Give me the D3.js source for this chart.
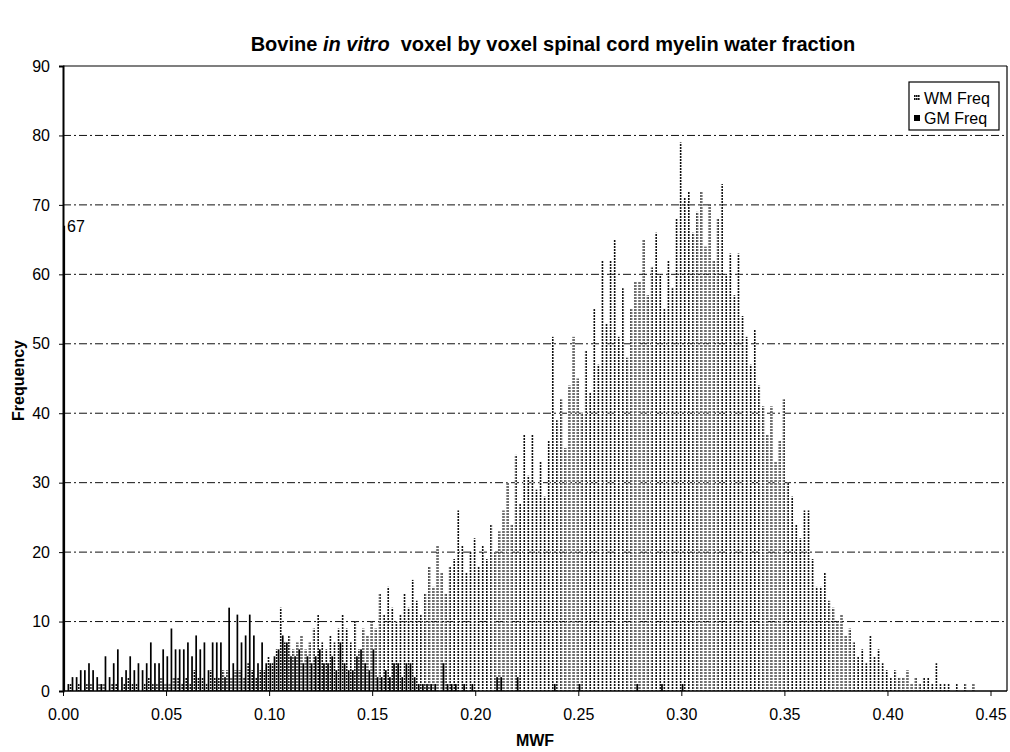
<!DOCTYPE html>
<html>
<head>
<meta charset="utf-8">
<script src="https://cdn.jsdelivr.net/npm/d3@7/dist/d3.min.js"></script>
<style>
  body { margin: 0; background: #fff; }
  svg { display: block; font-family: Arial, "Liberation Sans", sans-serif; }
</style>
</head>
<body>
<svg id="chart" width="1010" height="752"></svg>
<script>
// histogram bins, 0.002 MWF wide, starting at 0.000
const binWidth = 0.002

const gmFreq = [
  67, 1, 2, 2, 3, 3, 4, 3, 2, 1,
  5, 2, 4, 6, 2, 3, 5, 3, 4, 3,
  4, 7, 4, 4, 6, 5, 9, 6, 6, 6,
  7, 5, 8, 6, 7, 3, 7, 7, 7, 2,
  12, 4, 11, 7, 8, 11, 8, 4, 7, 4,
  4, 5, 6, 8, 7, 5, 5, 6, 4, 5,
  4, 5, 6, 4, 4, 5, 3, 7, 4, 3,
  3, 5, 6, 4, 3, 6, 2, 2, 3, 2,
  4, 4, 2, 4, 4, 2, 1, 1, 1, 1,
  1, 0, 4, 1, 1, 1, 0, 1, 0, 1,
  0, 0, 0, 0, 0, 2, 2, 0, 0, 0,
  2, 0, 0, 0, 0, 0, 0, 0, 0, 1,
  0, 0, 0, 0, 0, 1, 0, 0, 0, 0,
  0, 0, 0, 0, 0, 0, 0, 0, 0, 1,
  0, 0, 0, 0, 0, 1, 0, 0, 0, 0,
  1, 0, 0, 0, 0, 0, 0, 0, 0, 0,
  0, 0, 0, 0, 0, 0, 0, 0, 0, 0,
  0, 0, 0, 0, 0, 0, 0, 0, 0, 0,
  0, 0, 0, 0, 0, 0, 0, 0, 0, 0,
  0, 0, 0, 0, 0, 0, 0, 0, 0, 0,
  0, 0, 0, 0, 0, 0, 0, 0, 0, 0,
  0, 0, 0, 0, 0, 0, 0, 0, 0, 0,
  0, 0, 0, 0, 0, 0, 0, 0, 0
]

const wmFreq = [
  0, 0, 1, 0, 1, 0, 1, 1, 0, 1,
  1, 0, 1, 1, 0, 1, 2, 1, 1, 0,
  1, 2, 1, 1, 2, 1, 1, 2, 2, 1,
  2, 1, 3, 2, 2, 1, 3, 2, 2, 3,
  3, 2, 3, 3, 2, 4, 3, 2, 3, 3,
  5, 4, 6, 12, 7, 8, 6, 7, 8, 6,
  7, 9, 11, 7, 6, 8, 7, 9, 11, 9,
  7, 10, 6, 9, 8, 10, 9, 14, 11, 15,
  12, 10, 11, 14, 12, 16, 13, 11, 14, 18,
  15, 21, 17, 14, 18, 19, 26, 21, 17, 20,
  22, 18, 21, 19, 24, 20, 23, 26, 30, 24,
  34, 27, 37, 31, 37, 29, 33, 28, 36, 51,
  39, 42, 35, 44, 51, 45, 40, 49, 43, 55,
  47, 62, 53, 62, 65, 51, 58, 48, 55, 59,
  59, 65, 57, 61, 66, 60, 55, 62, 58, 68,
  79, 71, 72, 66, 69, 72, 64, 70, 62, 68,
  73, 60, 63, 57, 63, 54, 51, 47, 52, 44,
  41, 37, 41, 33, 36, 42, 30, 28, 24, 22,
  26, 26, 19, 15, 15, 17, 13, 12, 10, 11,
  8, 9, 7, 5, 6, 4, 8, 5, 6, 4,
  3, 2, 3, 2, 2, 3, 1, 2, 1, 2,
  2, 1, 4, 1, 1, 1, 0, 1, 0, 1,
  0, 1, 0, 0, 0, 0, 0, 0, 0
]

const xTicks = [0, 0.05, 0.10, 0.15, 0.20, 0.25, 0.30, 0.35, 0.40, 0.45]
const yTicks = [0, 10, 20, 30, 40, 50, 60, 70, 80, 90]
const seriesNames = ['WM Freq', 'GM Freq']

const svg = d3.select('#chart')
const plotLeft = 63, plotRight = 1007, plotTop = 66, plotBottom = 691
const fontFam = 'Arial, "Liberation Sans", sans-serif'

const x = d3.scaleLinear().domain([0, 0.458]).range([plotLeft, plotRight])
const y = d3.scaleLinear().domain([0, 90]).range([plotBottom, plotTop])

// dotted fill used for the WM bars
const defs = svg.append('defs')
const pat = defs.append('pattern')
    .attr('id', 'dots')
    .attr('patternUnits', 'userSpaceOnUse')
    .attr('width', 2)
    .attr('height', 3)
pat.append('rect').attr('width', 2).attr('height', 3).attr('fill', '#fff')
pat.append('rect').attr('width', 1.6).attr('height', 2).attr('fill', '#111')

// title
const title = svg.append('text')
    .attr('x', 553)
    .attr('y', 51)
    .attr('text-anchor', 'middle')
    .attr('font-size', 20)
    .attr('font-weight', 'bold')
title.append('tspan').text('Bovine ')
title.append('tspan').attr('font-style', 'italic').text('in vitro')
title.append('tspan').text('\u00a0\u00a0voxel by voxel spinal cord myelin water fraction')

// gridlines
svg.append('g')
    .selectAll('line')
    .data(yTicks.filter(d => d > 0 && d < 90))
    .enter()
    .append('line')
    .attr('x1', plotLeft)
    .attr('x2', plotRight)
    .attr('y1', d => y(d))
    .attr('y2', d => y(d))
    .attr('stroke', '#111')
    .attr('stroke-width', 1)
    .attr('stroke-dasharray', '8,3,2,3')

const bins = wmFreq.map((w, i) => ({ v: i * binWidth, wm: w, gm: gmFreq[i] }))

// WM bars (left of bin), GM bars (right of bin)
svg.append('g')
    .selectAll('rect')
    .data(bins.filter(d => d.wm > 0))
    .enter()
    .append('rect')
    .attr('x', d => x(d.v) - 1.6)
    .attr('y', d => y(d.wm))
    .attr('width', 2)
    .attr('height', d => y(0) - y(d.wm))
    .attr('fill', 'url(#dots)')

svg.append('g')
    .selectAll('rect')
    .data(bins.filter(d => d.gm > 0))
    .enter()
    .append('rect')
    .attr('x', d => x(d.v) + 0.4)
    .attr('y', d => y(d.gm))
    .attr('width', 1.7)
    .attr('height', d => y(0) - y(d.gm))
    .attr('fill', '#000')

// data label on the first bin
svg.append('text')
    .attr('x', x(0) + 4)
    .attr('y', y(gmFreq[0]) + 6)
    .attr('font-size', 16)
    .text(gmFreq[0])

// plot frame top/right
svg.append('line')
    .attr('x1', plotLeft).attr('x2', plotRight)
    .attr('y1', plotTop).attr('y2', plotTop)
    .attr('stroke', '#000').attr('stroke-width', 1.2)
svg.append('line')
    .attr('x1', plotRight).attr('x2', plotRight)
    .attr('y1', plotTop).attr('y2', plotBottom)
    .attr('stroke', '#000').attr('stroke-width', 1.2)

// axes
const xAxis = svg.append('g')
    .attr('transform', `translate(0,${plotBottom})`)
    .call(d3.axisBottom(x).tickValues(xTicks).tickFormat(d3.format('.2f')).tickSize(5).tickPadding(13))
xAxis.select('.domain').attr('stroke-width', 1.5).attr('d', `M${plotLeft},0H${plotRight}`)
xAxis.selectAll('text').attr('font-size', 16).attr('fill', '#000').attr('font-family', fontFam)

const yAxis = svg.append('g')
    .attr('transform', `translate(${plotLeft},0)`)
    .call(d3.axisLeft(y).tickValues(yTicks).tickSize(4).tickPadding(9))
yAxis.select('.domain').attr('stroke-width', 2)
yAxis.selectAll('text').attr('font-size', 16).attr('fill', '#000').attr('font-family', fontFam)

// axis titles
svg.append('text')
    .attr('x', (plotLeft + plotRight) / 2)
    .attr('y', 746)
    .attr('text-anchor', 'middle')
    .attr('font-size', 16)
    .attr('font-weight', 'bold')
    .text('MWF')

svg.append('text')
    .attr('transform', `translate(24,${(plotTop + plotBottom) / 2 + 2}) rotate(-90)`)
    .attr('text-anchor', 'middle')
    .attr('font-size', 16)
    .attr('font-weight', 'bold')
    .text('Frequency')

// legend
const legend = svg.append('g').attr('transform', 'translate(909,82)')
legend.append('rect')
    .attr('width', 90)
    .attr('height', 48)
    .attr('fill', '#fff')
    .attr('stroke', '#000')
    .attr('stroke-width', 1.2)

const items = legend.selectAll('g.item')
    .data(seriesNames)
    .enter()
    .append('g')
    .attr('transform', (d, i) => `translate(5,${16 + i * 20})`)
items.append('rect')
    .attr('x', 0)
    .attr('y', -3)
    .attr('width', 6)
    .attr('height', 6)
    .attr('fill', (d, i) => i === 0 ? 'url(#dots)' : '#000')
items.append('text')
    .attr('x', 10)
    .attr('y', 6)
    .attr('font-size', 16)
    .text(d => d)
</script>
</body>
</html>
